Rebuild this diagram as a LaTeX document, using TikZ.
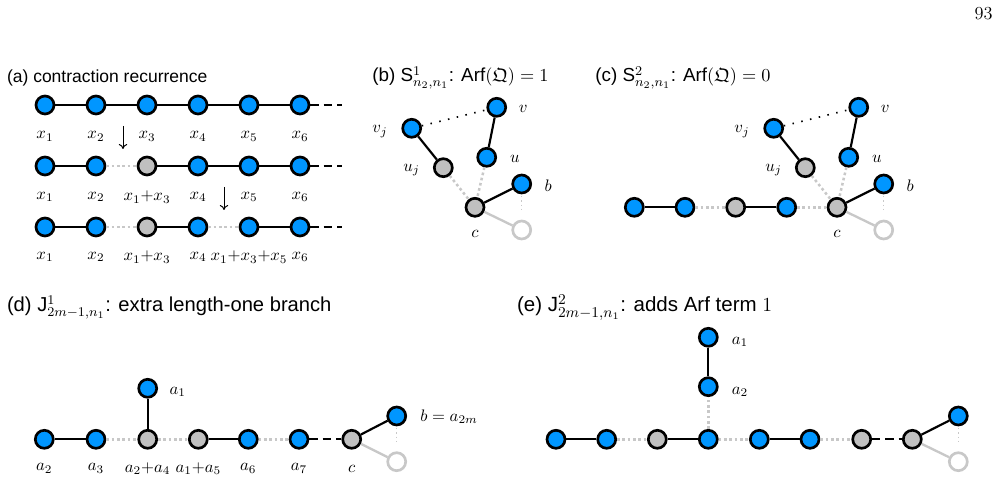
\documentclass[tikz,border=0pt]{standalone}
\usepackage{amsmath,amssymb}
\usepackage{fontspec}
\setsansfont{Liberation Sans}
\usetikzlibrary{arrows.meta, positioning}
\definecolor{nodeblue}{RGB}{0,150,255}
\definecolor{nodegray}{RGB}{192,192,192}
\definecolor{edgegray}{RGB}{200,200,200}

\begin{document}
\begin{tikzpicture}[
    x=0.6pt, y=-0.6pt,
    vtx/.style={circle, draw, line width=1.6pt, minimum size=10.8pt, inner sep=0pt},
    bnode/.style={vtx, fill=nodeblue},
    gnode/.style={vtx, fill=nodegray},
    onode/.style={vtx, draw=edgegray, fill=white},
    bond/.style={line width=1.3pt},
    cut/.style={line width=1.5pt, draw=edgegray, dash pattern=on 1.6pt off 1.6pt},
    trail/.style={line width=1.4pt, dash pattern=on 5pt off 3pt},
    far/.style={line width=1pt, dash pattern=on 0.9pt off 4.5pt},
    ghost/.style={line width=1.4pt, draw=edgegray},
    hint/.style={line width=0.7pt, draw=edgegray, dash pattern=on 0.8pt off 1.8pt, shorten <=1pt, shorten >=4pt},
    sink/.style={-{To[length=3pt,width=5pt]}, line width=0.6pt},
    lbl/.style={font=\fontsize{10.4}{12}\selectfont, inner sep=0pt},
    ttl/.style={font=\sffamily\fontsize{#1}{14}\selectfont, anchor=base west, inner sep=0pt}
]
    \useasboundingbox (0,0) rectangle (1002,481);
    \node[anchor=base east, inner sep=0pt, font=\fontsize{11}{13}\selectfont] (pg) at (993,20) {93};

    % (a) contraction recurrence
    \node[ttl=10.5] (ta) at (6.7,82.3) {(a) contraction recurrence};
    \foreach \i/\x in {1/45,2/96,3/147,4/198,5/249,6/300}
        \node[bnode] (p\i) at (\x,105) {};
    \foreach \i/\x/\s in {1/45/bnode,2/96/bnode,3/147/gnode,4/198/bnode,5/249/bnode,6/300/bnode} {
        \node[\s] (q\i) at (\x,166) {};
        \node[\s] (r\i) at (\x,227) {};
    }
    \coordinate (pe) at (342,105);
    \coordinate (qe) at (342,166);
    \coordinate (re) at (342,227);
    \draw[bond] (p1) -- (p2) -- (p3) -- (p4) -- (p5) -- (p6);
    \draw[trail] (p6) -- (pe);
    \draw[bond] (q1) -- (q2);
    \draw[cut] (q2) -- (q3);
    \draw[bond] (q3) -- (q4) -- (q5) -- (q6);
    \draw[trail] (q6) -- (qe);
    \draw[bond] (r1) -- (r2);
    \draw[cut] (r2) -- (r3);
    \draw[bond] (r3) -- (r4);
    \draw[cut] (r4) -- (r5);
    \draw[bond] (r5) -- (r6);
    \draw[trail] (r6) -- (re);
    \foreach \i/\t in {1/x_1,2/x_2,3/x_3,4/x_4,5/x_5,6/x_6}
        \node[lbl] (lp\i) at ([yshift=-19pt]p\i) {$\t$};
    \foreach \i/\t in {1/x_1,2/x_2,3/x_1{+}x_3,4/x_4,5/x_5,6/x_6}
        \node[lbl] (lq\i) at ([yshift=-18.6pt]q\i) {$\t$};
    \foreach \i/\t in {1/x_1,2/x_2,3/x_1{+}x_3,4/x_4,5/x_1{+}x_3{+}x_5,6/x_6}
        \node[lbl] (lr\i) at ([yshift=-18pt]r\i) {$\t$};
    \coordinate (s1) at (123,126);
    \coordinate (e1) at (123,149);
    \coordinate (s2) at (224,187);
    \coordinate (e2) at (224,210);
    \draw[sink] (s1) -- (e1);
    \draw[sink] (s2) -- (e2);

    % (b) and (c) share the star around c
    \node[ttl=11.3] (tb) at (372,81.7) {(b) S$^{1}_{n_2,n_1}$: Arf$(\mathfrak{Q})=1$};
    \node[ttl=11.3] (tc) at (595,81.7) {(c) S$^{2}_{n_2,n_1}$: Arf$(\mathfrak{Q})=0$};
    \foreach \p/\dx in {b/0,c/362} {
        \begin{scope}[shift={(\dx,0)}]
            \node[bnode] (\p vj) at (411.7,128.3) {};
            \node[gnode] (\p uj) at (443.3,167.7) {};
            \node[bnode] (\p v) at (496.7,107.3) {};
            \node[bnode] (\p u) at (486.7,157.3) {};
            \node[bnode] (\p b) at (521.7,184) {};
            \node[gnode] (\p c) at (475,207.3) {};
            \node[onode] (\p o) at (521.7,230) {};
            \draw[bond] (\p vj) -- (\p uj);
            \draw[far] (\p vj) -- (\p v);
            \draw[bond] (\p v) -- (\p u);
            \draw[cut] (\p u) -- (\p c);
            \draw[cut] (\p uj) -- (\p c);
            \draw[bond] (\p c) -- (\p b);
            \draw[ghost] (\p c) -- (\p o);
            \draw[hint] (\p b) -- (\p o);
            \node[lbl] (l\p v) at (523.3,109.3) {$v$};
            \node[lbl] (l\p vj) at (380,131.7) {$v_j$};
            \node[lbl] (l\p u) at (515,159.3) {$u$};
            \node[lbl] (l\p uj) at (411.7,170) {$u_j$};
            \node[lbl] (l\p b) at (548.3,186) {$b$};
            \node[lbl] (l\p c) at (475,234) {$c$};
        \end{scope}
    }
    \node[bnode] (c1) at (634.3,207.3) {};
    \node[bnode] (c2) at (685,207.3) {};
    \node[gnode] (c3) at (735.7,207.3) {};
    \node[bnode] (c4) at (786.7,207.3) {};
    \draw[bond] (c1) -- (c2);
    \draw[cut] (c2) -- (c3);
    \draw[bond] (c3) -- (c4);
    \draw[cut] (c4) -- (cc);

    % (d) extra branch a_1
    \node[ttl=12.1] (td) at (6.7,311.7) {(d) J$^{1}_{2m-1,n_1}$: extra length-one branch};
    \foreach \i/\x/\s/\t in {1/44.3/bnode/a_2,2/96/bnode/a_3,3/147.7/gnode/a_2{+}a_4,4/198.3/gnode/a_1{+}a_5,5/248.3/bnode/a_6,6/299/bnode/a_7,c/351.7/gnode/c} {
        \node[\s] (d\i) at (\x,439.3) {};
        \node[lbl] (ld\i) at ([yshift=-17.6pt]d\i) {$\t$};
    }
    \node[bnode] (da1) at (147.7,388.3) {};
    \node[bnode] (db) at (396.7,416) {};
    \node[onode] (do) at (396.7,461.7) {};
    \node[lbl] (lda1) at (177.7,391.7) {$a_1$};
    \node[lbl, anchor=west] (ldb) at (420,416.7) {$b=a_{2m}$};
    \draw[bond] (d1) -- (d2);
    \draw[cut] (d2) -- (d3);
    \draw[cut] (d3) -- (d4);
    \draw[bond] (d4) -- (d5);
    \draw[cut] (d5) -- (d6);
    \draw[trail] (d6) -- (dc);
    \draw[bond] (d3) -- (da1);
    \draw[bond] (dc) -- (db);
    \draw[ghost] (dc) -- (do);
    \draw[hint] (db) -- (do);

    % (e) Arf term
    \node[ttl=12.3] (te) at (516.7,311.7) {(e) J$^{2}_{2m-1,n_1}$: adds Arf term $1$};
    \foreach \i/\x/\s in {1/556/bnode,2/606.7/bnode,3/657.3/gnode,4/708.3/bnode,5/759.3/bnode,6/810/bnode,7/861.7/gnode,c/912.3/gnode}
        \node[\s] (e\i) at (\x,439.3) {};
    \node[bnode] (ea2) at (708.3,386.7) {};
    \node[bnode] (ea1) at (708.3,337.3) {};
    \node[bnode] (eb) at (958.3,416) {};
    \node[onode] (eo) at (958.3,461.7) {};
    \node[lbl] (lea1) at (740,341.7) {$a_1$};
    \node[lbl] (lea2) at (740,391.7) {$a_2$};
    \draw[bond] (e1) -- (e2);
    \draw[cut] (e2) -- (e3);
    \draw[bond] (e3) -- (e4);
    \draw[cut] (e4) -- (e5);
    \draw[bond] (e5) -- (e6);
    \draw[cut] (e6) -- (e7);
    \draw[trail] (e7) -- (ec);
    \draw[cut] (e4) -- (ea2);
    \draw[bond] (ea2) -- (ea1);
    \draw[bond] (ec) -- (eb);
    \draw[ghost] (ec) -- (eo);
    \draw[hint] (eb) -- (eo);
\end{tikzpicture}
\end{document}
